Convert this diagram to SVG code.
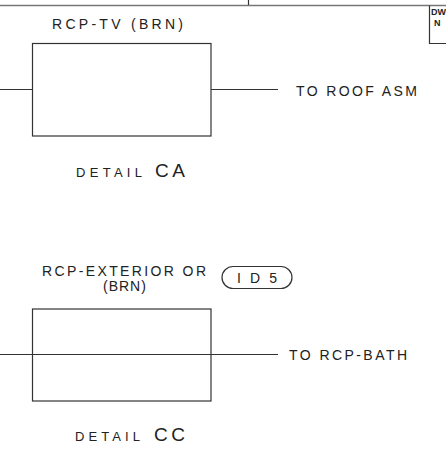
<svg xmlns="http://www.w3.org/2000/svg" width="446" height="463" viewBox="0 0 446 463">
<style>
.ln{stroke:#333;stroke-width:1.2;fill:none}
.fr{stroke:#777;stroke-width:1.6;fill:none}
text{font-family:"Liberation Sans",Arial,sans-serif;fill:#222;font-size:14px}
.sm{font-size:13px}
.lg{font-size:19px}
.tb{font-size:9px;font-weight:bold}
</style>
<rect width="446" height="463" fill="#fff"/>
<g id="frame">
<line class="fr" x1="0" y1="5.5" x2="446" y2="5.5"/>
<line class="ln" x1="248.5" y1="0" x2="248.5" y2="5"/>
<polyline class="ln" points="429.5,5.5 429.5,43.5 446,43.5"/>
<text class="tb" x="431" y="15">DW</text>
<text class="tb" x="434" y="26">N</text>
</g>
<g id="connectors">
<line class="ln" x1="0" y1="89.5" x2="32.5" y2="89.5"/>
<line class="ln" x1="211" y1="89.5" x2="278" y2="89.5"/>
<line class="ln" x1="0" y1="354.5" x2="278" y2="354.5"/>
</g>
<g id="detail-ca">
<text x="52" y="29" textLength="131" lengthAdjust="spacing">RCP-TV (BRN)</text>
<rect class="ln" x="32.5" y="43.5" width="178.5" height="92.5"/>
<text x="296" y="96" font-size="15" textLength="121" lengthAdjust="spacing">TO ROOF ASM</text>
<text class="sm" x="76" y="177" textLength="66" lengthAdjust="spacing">DETAIL</text>
<text class="lg" x="155" y="177" textLength="30" lengthAdjust="spacing">CA</text>
</g>
<g id="detail-cc">
<text x="42" y="276" font-size="13.5" textLength="164" lengthAdjust="spacing">RCP-EXTERIOR OR</text>
<text x="103" y="291" font-size="11" letter-spacing="1">(BRN)</text>
<rect class="ln" x="222" y="266.5" width="70" height="22" rx="11"/>
<text x="237" y="283" textLength="40" lengthAdjust="spacing">ID5</text>
<rect class="ln" x="32.5" y="309" width="178.5" height="92"/>
<text x="289" y="360" font-size="15" textLength="118" lengthAdjust="spacing">TO RCP-BATH</text>
<text class="sm" x="75" y="441" textLength="65" lengthAdjust="spacing">DETAIL</text>
<text class="lg" x="154" y="441" textLength="31" lengthAdjust="spacing">CC</text>
</g>
</svg>
